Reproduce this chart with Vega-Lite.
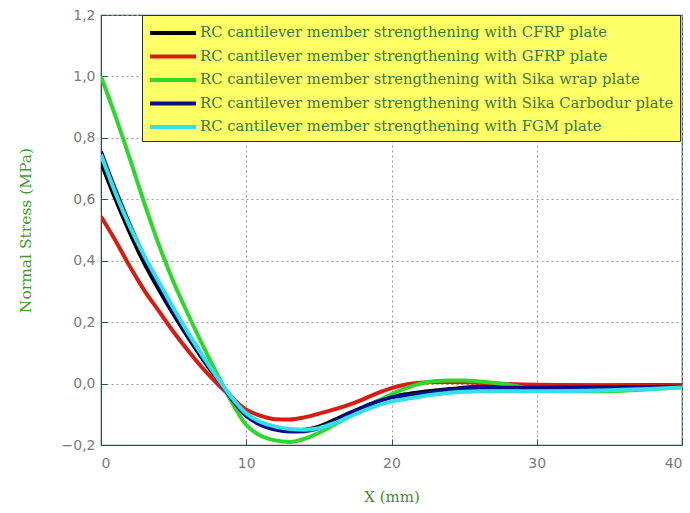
{
  "$schema": "https://vega.github.io/schema/vega-lite/v6.json",
  "width": 581,
  "height": 430,
  "autosize": {"type": "none"},
  "padding": {"left": 101, "top": 15, "right": 8, "bottom": 68},
  "background": "white",
  "config": {
    "view": {"stroke": "#2f4f4f", "strokeWidth": 1.2}
  },
  "datasets": {
    "curves": [
      {"s":"CFRP","x":0,"y":0.72},{"s":"CFRP","x":1,"y":0.6},{"s":"CFRP","x":2,"y":0.49},{"s":"CFRP","x":3,"y":0.39},{"s":"CFRP","x":4,"y":0.305},{"s":"CFRP","x":5,"y":0.225},{"s":"CFRP","x":6,"y":0.15},{"s":"CFRP","x":7,"y":0.08},{"s":"CFRP","x":8,"y":0.015},{"s":"CFRP","x":9,"y":-0.045},{"s":"CFRP","x":10,"y":-0.1},{"s":"CFRP","x":11,"y":-0.13},{"s":"CFRP","x":12,"y":-0.145},{"s":"CFRP","x":13,"y":-0.152},{"s":"CFRP","x":14,"y":-0.15},{"s":"CFRP","x":15,"y":-0.14},{"s":"CFRP","x":16,"y":-0.12},{"s":"CFRP","x":17,"y":-0.098},{"s":"CFRP","x":18,"y":-0.078},{"s":"CFRP","x":19,"y":-0.058},{"s":"CFRP","x":20,"y":-0.042},{"s":"CFRP","x":21,"y":-0.035},{"s":"CFRP","x":22,"y":-0.028},{"s":"CFRP","x":24,"y":-0.018},{"s":"CFRP","x":26,"y":-0.01},{"s":"CFRP","x":30,"y":-0.007},{"s":"CFRP","x":35,"y":-0.006},{"s":"CFRP","x":40,"y":-0.005},
      {"s":"GFRP","x":0,"y":0.544},{"s":"GFRP","x":1,"y":0.465},{"s":"GFRP","x":2,"y":0.38},{"s":"GFRP","x":3,"y":0.302},{"s":"GFRP","x":4,"y":0.235},{"s":"GFRP","x":5,"y":0.168},{"s":"GFRP","x":6,"y":0.107},{"s":"GFRP","x":7,"y":0.05},{"s":"GFRP","x":8,"y":0.0},{"s":"GFRP","x":9,"y":-0.045},{"s":"GFRP","x":10,"y":-0.085},{"s":"GFRP","x":11,"y":-0.105},{"s":"GFRP","x":12,"y":-0.116},{"s":"GFRP","x":13,"y":-0.117},{"s":"GFRP","x":14,"y":-0.11},{"s":"GFRP","x":15,"y":-0.098},{"s":"GFRP","x":16,"y":-0.085},{"s":"GFRP","x":17,"y":-0.07},{"s":"GFRP","x":18,"y":-0.052},{"s":"GFRP","x":19,"y":-0.032},{"s":"GFRP","x":20,"y":-0.015},{"s":"GFRP","x":21,"y":-0.003},{"s":"GFRP","x":22,"y":0.003},{"s":"GFRP","x":23,"y":0.005},{"s":"GFRP","x":25,"y":0.004},{"s":"GFRP","x":27,"y":0.0},{"s":"GFRP","x":30,"y":-0.004},{"s":"GFRP","x":35,"y":-0.006},{"s":"GFRP","x":40,"y":-0.005},
      {"s":"Sika wrap","x":0,"y":1.0},{"s":"Sika wrap","x":1,"y":0.87},{"s":"Sika wrap","x":2,"y":0.73},{"s":"Sika wrap","x":3,"y":0.585},{"s":"Sika wrap","x":4,"y":0.45},{"s":"Sika wrap","x":5,"y":0.33},{"s":"Sika wrap","x":6,"y":0.225},{"s":"Sika wrap","x":7,"y":0.125},{"s":"Sika wrap","x":8,"y":0.03},{"s":"Sika wrap","x":9,"y":-0.06},{"s":"Sika wrap","x":10,"y":-0.135},{"s":"Sika wrap","x":11,"y":-0.17},{"s":"Sika wrap","x":12,"y":-0.185},{"s":"Sika wrap","x":13,"y":-0.19},{"s":"Sika wrap","x":14,"y":-0.18},{"s":"Sika wrap","x":15,"y":-0.16},{"s":"Sika wrap","x":16,"y":-0.135},{"s":"Sika wrap","x":17,"y":-0.11},{"s":"Sika wrap","x":18,"y":-0.085},{"s":"Sika wrap","x":19,"y":-0.058},{"s":"Sika wrap","x":20,"y":-0.035},{"s":"Sika wrap","x":21,"y":-0.015},{"s":"Sika wrap","x":22,"y":0.0},{"s":"Sika wrap","x":23,"y":0.008},{"s":"Sika wrap","x":24,"y":0.01},{"s":"Sika wrap","x":25,"y":0.01},{"s":"Sika wrap","x":26,"y":0.007},{"s":"Sika wrap","x":27,"y":0.003},{"s":"Sika wrap","x":28,"y":-0.003},{"s":"Sika wrap","x":29,"y":-0.012},{"s":"Sika wrap","x":30,"y":-0.02},{"s":"Sika wrap","x":32,"y":-0.025},{"s":"Sika wrap","x":35,"y":-0.025},{"s":"Sika wrap","x":38,"y":-0.018},{"s":"Sika wrap","x":40,"y":-0.012},
      {"s":"Sika Carbodur","x":0,"y":0.755},{"s":"Sika Carbodur","x":1,"y":0.63},{"s":"Sika Carbodur","x":2,"y":0.515},{"s":"Sika Carbodur","x":3,"y":0.41},{"s":"Sika Carbodur","x":4,"y":0.32},{"s":"Sika Carbodur","x":5,"y":0.235},{"s":"Sika Carbodur","x":6,"y":0.157},{"s":"Sika Carbodur","x":7,"y":0.085},{"s":"Sika Carbodur","x":8,"y":0.018},{"s":"Sika Carbodur","x":9,"y":-0.05},{"s":"Sika Carbodur","x":10,"y":-0.105},{"s":"Sika Carbodur","x":11,"y":-0.135},{"s":"Sika Carbodur","x":12,"y":-0.15},{"s":"Sika Carbodur","x":13,"y":-0.156},{"s":"Sika Carbodur","x":14,"y":-0.155},{"s":"Sika Carbodur","x":15,"y":-0.145},{"s":"Sika Carbodur","x":16,"y":-0.125},{"s":"Sika Carbodur","x":17,"y":-0.1},{"s":"Sika Carbodur","x":18,"y":-0.08},{"s":"Sika Carbodur","x":19,"y":-0.06},{"s":"Sika Carbodur","x":20,"y":-0.045},{"s":"Sika Carbodur","x":21,"y":-0.04},{"s":"Sika Carbodur","x":22,"y":-0.033},{"s":"Sika Carbodur","x":24,"y":-0.02},{"s":"Sika Carbodur","x":26,"y":-0.014},{"s":"Sika Carbodur","x":30,"y":-0.014},{"s":"Sika Carbodur","x":35,"y":-0.012},{"s":"Sika Carbodur","x":40,"y":-0.01},
      {"s":"FGM","x":0,"y":0.745},{"s":"FGM","x":1,"y":0.62},{"s":"FGM","x":2,"y":0.51},{"s":"FGM","x":3,"y":0.415},{"s":"FGM","x":4,"y":0.33},{"s":"FGM","x":5,"y":0.245},{"s":"FGM","x":6,"y":0.165},{"s":"FGM","x":7,"y":0.09},{"s":"FGM","x":8,"y":0.02},{"s":"FGM","x":9,"y":-0.045},{"s":"FGM","x":10,"y":-0.097},{"s":"FGM","x":11,"y":-0.125},{"s":"FGM","x":12,"y":-0.14},{"s":"FGM","x":13,"y":-0.148},{"s":"FGM","x":14,"y":-0.15},{"s":"FGM","x":15,"y":-0.145},{"s":"FGM","x":16,"y":-0.13},{"s":"FGM","x":17,"y":-0.11},{"s":"FGM","x":18,"y":-0.09},{"s":"FGM","x":19,"y":-0.072},{"s":"FGM","x":20,"y":-0.058},{"s":"FGM","x":21,"y":-0.05},{"s":"FGM","x":22,"y":-0.042},{"s":"FGM","x":24,"y":-0.03},{"s":"FGM","x":26,"y":-0.025},{"s":"FGM","x":30,"y":-0.025},{"s":"FGM","x":35,"y":-0.022},{"s":"FGM","x":40,"y":-0.013}
    ]
  },
  "data": {"name": "curves"},
  "transform": [
    {"calculate": "'RC cantilever member strengthening with ' + datum.s + ' plate'", "as": "series"}
  ],
  "mark": {"type": "line", "strokeWidth": 4, "interpolate": "monotone", "clip": true},
  "encoding": {
    "x": {
      "field": "x", "type": "quantitative",
      "scale": {"domain": [0, 40], "nice": false},
      "axis": {
        "title": "X (mm)", "values": [0, 10, 20, 30, 40],
        "grid": true, "gridColor": "#9a9a9a", "gridDash": [2, 3], "gridWidth": 1,
        "domainColor": "#2f4f4f", "tickColor": "#2f4f4f", "tickSize": -6,
        "labelColor": "#7a7a7a", "labelFont": "DejaVu Sans", "labelFontSize": 14, "labelPadding": 17,
        "titleColor": "#4c8a2e", "titleFont": "DejaVu Serif", "titleFontSize": 15, "titleFontWeight": "normal", "titlePadding": 19
      }
    },
    "y": {
      "field": "y", "type": "quantitative",
      "scale": {"domain": [-0.2, 1.2], "nice": false},
      "axis": {
        "title": "Normal Stress (MPa)", "values": [-0.2, 0, 0.2, 0.4, 0.6, 0.8, 1.0, 1.2],
        "labelExpr": "replace(format(datum.value, '.1f'), '.', ',')",
        "grid": true, "gridColor": "#9a9a9a", "gridDash": [2, 3], "gridWidth": 1,
        "domainColor": "#2f4f4f", "tickColor": "#2f4f4f", "tickSize": -6,
        "labelColor": "#7a7a7a", "labelFont": "DejaVu Sans", "labelFontSize": 14, "labelPadding": 12,
        "titleColor": "#3f9a2e", "titleFont": "DejaVu Serif", "titleFontSize": 15.5, "titleFontWeight": "normal", "titlePadding": 28
      }
    },
    "color": {
      "field": "series", "type": "nominal",
      "sort": null,
      "scale": {
        "domain": [
          "RC cantilever member strengthening with CFRP plate",
          "RC cantilever member strengthening with GFRP plate",
          "RC cantilever member strengthening with Sika wrap plate",
          "RC cantilever member strengthening with Sika Carbodur plate",
          "RC cantilever member strengthening with FGM plate"
        ],
        "range": ["#000000", "#d91c12", "#2ed82a", "#0c0c8c", "#33e0e8"]
      },
      "legend": {
        "title": null, "orient": "none", "legendX": 41, "legendY": 0,
        "fillColor": "#ffff66", "strokeColor": "#1f3050",
        "padding": 6, "rowPadding": 3.5,
        "symbolType": "M-1,0H3.6", "symbolSize": 400, "symbolStrokeWidth": 4,
        "labelFont": "DejaVu Serif", "labelFontSize": 14.8, "labelColor": "#3a7a3a",
        "labelLimit": 600, "labelOffset": 28
      }
    }
  }
}
